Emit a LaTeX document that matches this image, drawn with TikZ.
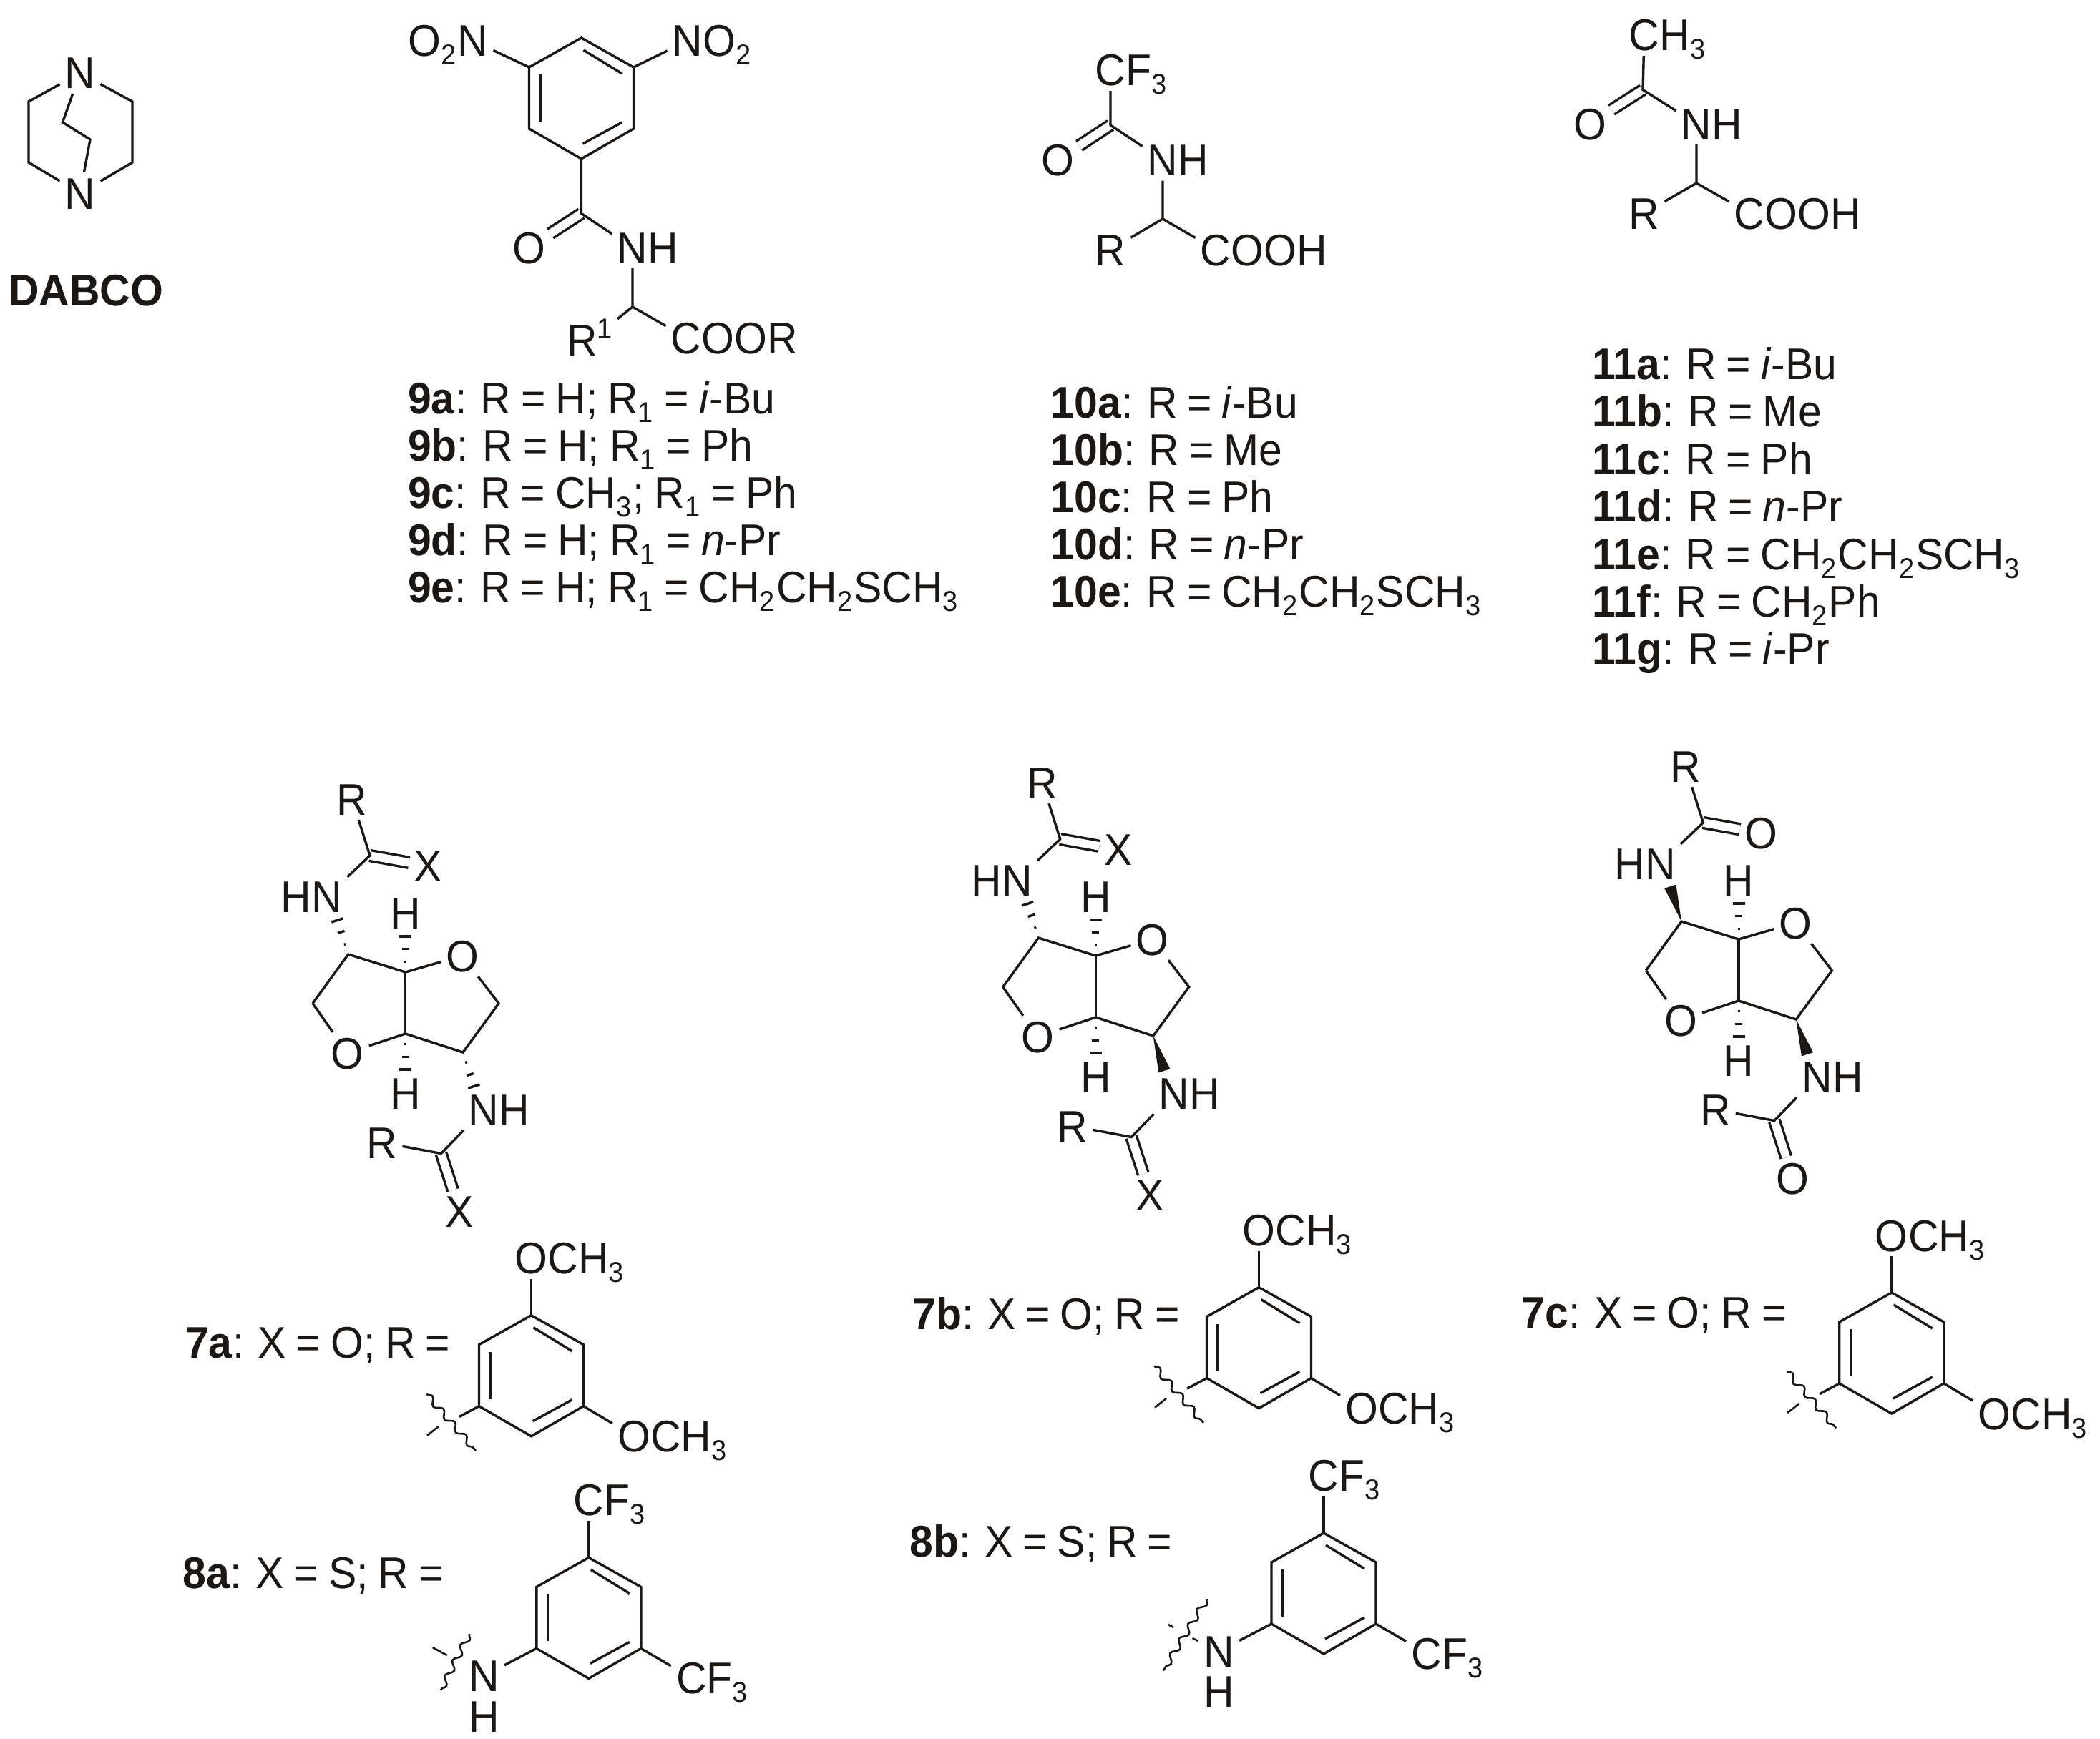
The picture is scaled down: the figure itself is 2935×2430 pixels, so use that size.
\documentclass[tikz,border=0pt]{standalone}
\usepackage{fontspec}
\setmainfont[FakeStretch=0.95,WordSpace=0.85]{Liberation Sans}
\usetikzlibrary{positioning,calc,decorations.pathmorphing}
\definecolor{ink}{RGB}{26, 23, 20}
\newcommand{\chemfont}{\fontsize{62}{70}\selectfont}
\newcommand{\subs}[1]{\raisebox{-12pt}{\fontsize{40}{40}\selectfont #1}\kern2pt\relax}
\newcommand{\sups}[1]{\raisebox{24pt}{\fontsize{40}{40}\selectfont #1}}
\tikzstyle{bond} = [
    line width=3.4pt,
    draw=ink
]
\tikzstyle{dblbond} = [
    bond,
    double,
    double distance=11.5pt
]
\tikzstyle{wavy} = [
    line width=2.6pt,
    draw=ink,
    decorate,
    decoration={snake,amplitude=4.5pt,segment length=24pt}
]
\tikzstyle{atom} = [
    inner sep=7pt,
    text height=44pt,
    text depth=0pt,
    text=ink,
    font=\chemfont
]
\tikzstyle{tailright} = [atom, right=-14pt of #1]
\tikzstyle{tailleft} = [atom, left=-14pt of #1]
\tikzstyle{entry} = [
    anchor=base west,
    inner sep=0pt,
    text=ink,
    font=\chemfont
]
\newcommand{\hashbond}[2]{
    \foreach \f/\w in {.23/1.5,.51/5,.78/8.5}{
        \draw[bond] ($(#1)!\f!(#2)!\w pt!90:(#2)$) -- ($(#1)!\f!(#2)!\w pt!-90:(#2)$);
    }
}
\newcommand{\wedgebond}[2]{
    \fill[ink] (#1) -- ($(#1)!.8!(#2)!8.5pt!90:(#2)$) -- ($(#1)!.8!(#2)!8.5pt!-90:(#2)$) -- cycle;
}
% benzene ring, given by its top corner
\newcommand{\arylring}[3]{
    \begin{scope}[shift={(#2,#3)}]
        \coordinate (#1a) at (0,0);
        \coordinate (#1b) at (73,41);
        \coordinate (#1c) at (73,127);
        \coordinate (#1d) at (0,169);
        \coordinate (#1e) at (-73,127);
        \coordinate (#1f) at (-73,41);
        \draw[bond] (#1a) -- (#1b) -- (#1c) -- (#1d) -- (#1e) -- (#1f) -- cycle;
        \coordinate (#1g) at (3,17);
        \coordinate (#1h) at (57,50);
        \coordinate (#1i) at (-57.5,51);
        \coordinate (#1j) at (-57.5,117);
        \coordinate (#1k) at (2,148);
        \coordinate (#1l) at (57,118);
        \draw[bond] (#1g) -- (#1h);
        \draw[bond] (#1i) -- (#1j);
        \draw[bond] (#1k) -- (#1l);
    \end{scope}
}
% dimethoxyphenyl
\newcommand{\methoxyaryl}[3]{
    \arylring{#1}{#2}{#3}
    \begin{scope}[shift={(#2,#3)}]
        \node[atom] (#1o1) at (0,-80) {O};
        \node[tailright=#1o1] (#1m1) {CH\subs{3}};
        \node[atom] (#1o2) at (143.5,169) {O};
        \node[tailright=#1o2] (#1m2) {CH\subs{3}};
        \draw[bond] (#1o1) -- (#1a);
        \draw[bond] (#1o2) -- (#1c);
        \coordinate (#1w1) at (-146.5,110);
        \coordinate (#1w2) at (-77.5,189.3);
        \coordinate (#1b1) at (-100.5,141.7);
        \coordinate (#1d1) at (-129.5,155.3);
        \coordinate (#1d2) at (-145.5,168);
        \draw[bond] (#1e) -- (#1b1);
        \draw[bond,line width=2.6pt] (#1d1) -- (#1d2);
        \draw[wavy] (#1w1) -- (#1w2);
    \end{scope}
}
% bis(trifluoromethyl)phenylamino
\newcommand{\cfaryl}[4]{
    \arylring{#1}{#2}{#3}
    \begin{scope}[shift={(#2,#3)}]
        \node[atom] (#1c1) at (0,-81) {C};
        \node[tailright=#1c1] (#1f1) {F\subs{3}};
        \node[atom] (#1c2) at (143.5,168) {C};
        \node[tailright=#1c2] (#1f2) {F\subs{3}};
        \node[atom] (#1n) at (-146.3,165.3) {N};
        \node[atom, below=#4 of #1n] (#1nh) {H};
        \draw[bond] (#1c1) -- (#1a);
        \draw[bond] (#1c2) -- (#1c);
        \draw[bond] (#1e) -- (#1n);
    \end{scope}
}
% isomannide core, given by its upper ring fusion atom
\newcommand{\isocore}[6]{
    \begin{scope}[shift={(#2,#3)}]
        \coordinate (#1j1) at (0,0);
        \coordinate (#1j2) at (0,86);
        \coordinate (#1tl) at (-80,-25);
        \coordinate (#1lf) at (-129.7,43.7);
        \coordinate (#1rt) at (130.3,43.7);
        \coordinate (#1br) at (80.3,112);
        \coordinate (#1c1) at (-49.7,-163);
        \coordinate (#1c2) at (49.8,253.5);
        \coordinate (#1e1) at (-99.6,-86);
        \coordinate (#1e2) at (99.9,173);
        \coordinate (#1e3) at (0,-64);
        \coordinate (#1e4) at (0,150);
        \node[atom] (#1o1) at (79.3,-23) {O};
        \node[atom] (#1o2) at (-81,113) {O};
        \node[atom] (#1h1) at (0,-83) {H};
        \node[atom] (#1h2) at (0,169.6) {H};
        \node[atom] (#1n1) at (-109.7,-106) {N};
        \node[tailleft=#1n1] (#1p1) {H};
        \node[atom] (#1n2) at (109.3,192) {N};
        \node[tailright=#1n2] (#1p2) {H};
        \node[atom] (#1r1) at (-74.7,-242) {R};
        \node[atom] (#1r2) at (-32.7,238) {R};
        \node[atom] (#1x1) at (31.8,-148.3) {#4};
        \node[atom] (#1x2) at (75.8,334) {#4};
        \draw[dblbond] (#1c1) -- (#1x1);
        \draw[dblbond] (#1c2) -- (#1x2);
        \draw[bond] (#1lf) -- (#1tl) -- (#1j1) -- (#1o1) -- (#1rt) -- (#1br) -- (#1j2) -- (#1o2) -- (#1lf);
        \draw[bond] (#1j1) -- (#1j2);
        \draw[bond] (#1r1) -- (#1c1) -- (#1n1);
        \draw[bond] (#1r2) -- (#1c2) -- (#1n2);
        \hashbond{#1j1}{#1e3}
        \hashbond{#1j2}{#1e4}
        #5{#1tl}{#1e1}
        #6{#1br}{#1e2}
    \end{scope}
}

\begin{document}
\begin{tikzpicture}[x=1pt,y=-1pt]
    \useasboundingbox (0,0) rectangle (2935,2430);
    \fill[white] (0,0) rectangle (2935,2430);

    % DABCO
    \node[atom] (dabn1) at (112,102) {N};
    \node[atom] (dabn2) at (112,270) {N};
    \coordinate (dab1) at (40,142);
    \coordinate (dab2) at (40,227);
    \coordinate (dab3) at (185,142);
    \coordinate (dab4) at (185,227);
    \coordinate (dab5) at (87.5,171);
    \coordinate (dab6) at (126,195);
    \draw[bond] (dabn1) -- (dab1) -- (dab2) -- (dabn2);
    \draw[bond] (dabn1) -- (dab3) -- (dab4) -- (dabn2);
    \draw[bond] (dabn1) -- (dab5) -- (dab6) -- (dabn2);
    \node[entry, anchor=center, font=\chemfont\bfseries] (dabco) at (120,406) {DABCO};

    % 9
    \arylring{nine}{812.5}{53}
    \node[atom] (ninen1) at (661,57) {N};
    \node[tailleft=ninen1] (nineo1) {O\subs{2}};
    \node[atom] (ninen2) at (961,57) {N};
    \node[tailright=ninen2] (nineo2) {O\subs{2}};
    \coordinate (ninec) at (812.5,298.5);
    \coordinate (ninech) at (884,429);
    \node[atom] (nineo) at (739,346) {O};
    \node[atom] (ninen) at (884,346) {N};
    \node[tailright=ninen] (nineh) {H};
    \node[atom] (niner) at (824,475) {R\sups{1}};
    \node[atom] (ninee) at (959,472) {C};
    \node[tailright=ninee] (nineoor) {OOR};
    \draw[dblbond] (ninec) -- (nineo);
    \draw[bond] (ninen1) -- (ninef);
    \draw[bond] (ninen2) -- (nineb);
    \draw[bond] (nined) -- (ninec) -- (ninen) -- (ninech) -- (ninee);
    \draw[bond] (ninech) -- (niner.north east);
    \node[entry] (l9a) at (570,578) {\textbf{9a}: R = H; R\subs{1} = \textit{i}-Bu};
    \node[entry] (l9b) at (570,644) {\textbf{9b}: R = H; R\subs{1} = Ph};
    \node[entry] (l9c) at (570,710) {\textbf{9c}: R = CH\subs{3}; R\subs{1} = Ph};
    \node[entry] (l9d) at (570,776) {\textbf{9d}: R = H; R\subs{1} = \textit{n}-Pr};
    \node[entry] (l9e) at (570,842) {\textbf{9e}: R = H; R\subs{1} = CH\subs{2}CH\subs{2}SCH\subs{3}};

    % 10
    \coordinate (tenc) at (1552,175);
    \coordinate (tench) at (1625,306);
    \node[atom] (tenc1) at (1552,98) {C};
    \node[tailright=tenc1] (tenf) {F\subs{3}};
    \node[atom] (teno) at (1478,223.5) {O};
    \node[atom] (tenn) at (1625,223.5) {N};
    \node[tailright=tenn] (tenh) {H};
    \node[atom] (tenr) at (1552,349) {R};
    \node[atom] (tene) at (1699,349) {C};
    \node[tailright=tene] (tenooh) {OOH};
    \draw[dblbond] (tenc) -- (teno);
    \draw[bond] (tenc1) -- (tenc) -- (tenn) -- (tench) -- (tene);
    \draw[bond] (tench) -- (tenr);
    \node[entry] (l10a) at (1468.5,584) {\textbf{10a}: R = \textit{i}-Bu};
    \node[entry] (l10b) at (1468.5,650) {\textbf{10b}: R = Me};
    \node[entry] (l10c) at (1468.5,716) {\textbf{10c}: R = Ph};
    \node[entry] (l10d) at (1468.5,782) {\textbf{10d}: R = \textit{n}-Pr};
    \node[entry] (l10e) at (1468.5,848) {\textbf{10e}: R = CH\subs{2}CH\subs{2}SCH\subs{3}};

    % 11
    \coordinate (elec) at (2296,125.5);
    \coordinate (elech) at (2371,256);
    \node[atom] (elec1) at (2298,49) {C};
    \node[tailright=elec1] (eleh3) {H\subs{3}};
    \node[atom] (eleo) at (2222,173) {O};
    \node[atom] (elen) at (2371,173) {N};
    \node[tailright=elen] (eleh) {H};
    \node[atom] (eler) at (2298,298) {R};
    \node[atom] (elee) at (2445,298) {C};
    \node[tailright=elee] (eleooh) {OOH};
    \draw[dblbond] (elec) -- (eleo);
    \draw[bond] (elec1) -- (elec) -- (elen) -- (elech) -- (elee);
    \draw[bond] (elech) -- (eler);
    \node[entry] (l11a) at (2225,530.5) {\textbf{11a}: R = \textit{i}-Bu};
    \node[entry] (l11b) at (2225,596.6) {\textbf{11b}: R = Me};
    \node[entry] (l11c) at (2225,663) {\textbf{11c}: R = Ph};
    \node[entry] (l11d) at (2225,729.5) {\textbf{11d}: R = \textit{n}-Pr};
    \node[entry] (l11e) at (2225,796) {\textbf{11e}: R = CH\subs{2}CH\subs{2}SCH\subs{3}};
    \node[entry] (l11f) at (2225,862) {\textbf{11f}: R = CH\subs{2}Ph};
    \node[entry] (l11g) at (2225,928.5) {\textbf{11g}: R = \textit{i}-Pr};

    % 7a-c
    \isocore{sa}{566.7}{1359}{X}{\hashbond}{\hashbond}
    \isocore{sb}{1531.4}{1336}{X}{\hashbond}{\wedgebond}
    \isocore{sc}{2430}{1313}{O}{\wedgebond}{\wedgebond}

    \node[entry] (l7a) at (259,1898) {\textbf{7a}: X = O; R =};
    \methoxyaryl{ara}{742.5}{1838.7}
    \node[entry] (l7b) at (1275.6,1858) {\textbf{7b}: X = O; R =};
    \methoxyaryl{arb}{1759.5}{1799.6}
    \node[entry] (l7c) at (2126.6,1856) {\textbf{7c}: X = O; R =};
    \methoxyaryl{arc}{2643.7}{1807}

    % 8a-b
    \node[entry] (l8a) at (255.7,2220) {\textbf{8a}: X = S; R =};
    \cfaryl{cfa}{822.8}{2177.4}{-2pt}
    \coordinate (cfaw1) at (656,2284);
    \coordinate (cfaw2) at (616,2363);
    \coordinate (cfad1) at (604.7,2303);
    \coordinate (cfad2) at (624.8,2314);
    \draw[wavy] (cfaw1) -- (cfaw2);
    \draw[bond,line width=2.6pt] (cfad1) -- (cfad2);

    \node[entry] (l8b) at (1271.6,2176) {\textbf{8b}: X = S; R =};
    \cfaryl{cfb}{1850}{2143}{-2pt}
    \coordinate (cfbw1) at (1686.6,2235);
    \coordinate (cfbw2) at (1625.8,2335.5);
    \coordinate (cfbd1) at (1633,2271);
    \coordinate (cfbd2) at (1640,2275);
    \coordinate (cfbd3) at (1666.5,2290);
    \coordinate (cfbd4) at (1674.6,2294);
    \draw[wavy] (cfbw1) -- (cfbw2);
    \draw[bond,line width=2.6pt] (cfbd1) -- (cfbd2);
    \draw[bond,line width=2.6pt] (cfbd3) -- (cfbd4);
\end{tikzpicture}
\end{document}
